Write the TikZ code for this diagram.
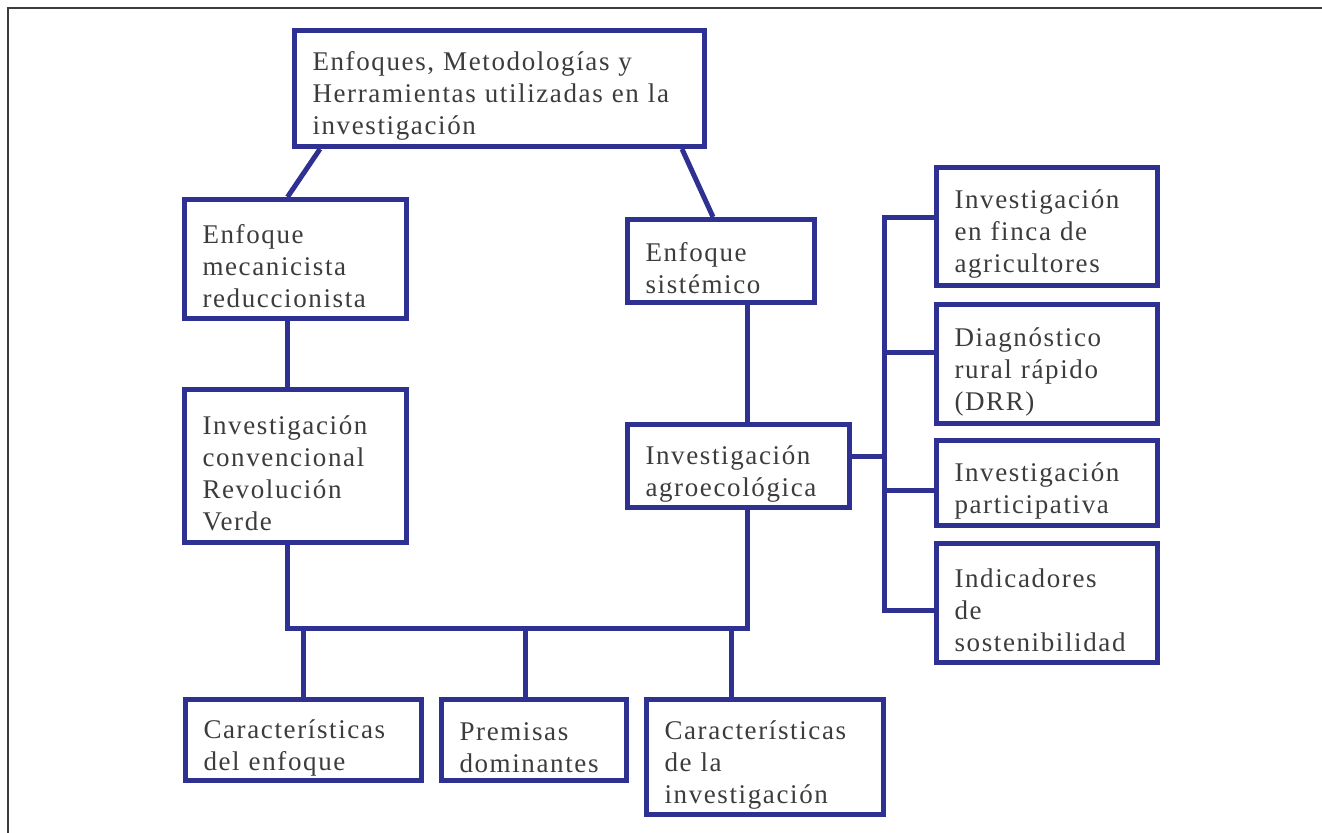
\documentclass[tikz,border=0pt]{standalone}
\usepackage{fontspec}
\setmainfont{Liberation Serif}[LetterSpace=6]
\usetikzlibrary{calc}
\definecolor{azul}{HTML}{2E3192}
\definecolor{tinta}{HTML}{3C3C3C}
\begin{document}
\begin{tikzpicture}[x=0.5pt, y=-0.5pt,
    caja/.style={draw=azul, line width=2.5pt, text=tinta, align=left,
      inner xsep=9pt, inner ysep=0pt, font=\fontsize{13.5}{16}\selectfont,
      execute at begin node={\rule{0pt}{17pt}}},
    enlace/.style={draw=azul, line width=2.5pt}]
    \useasboundingbox (0, 0) rectangle (1322, 833) ;
    \draw[line width=0.8pt, tinta] (8, 833) -- (8, 8) -- (1322, 8) ;
    \node[caja, text width=187pt, minimum width=205pt, minimum height=58pt] (raiz) at (499.5, 88.5)
      {Enfoques, Metodologías y\\Herramientas utilizadas en la\\investigación} ;
    \node[caja, text width=93pt, minimum width=111pt, minimum height=59.5pt] (mecanicista) at (295.5, 259)
      {Enfoque\\mecanicista\\reduccionista} ;
    \node[caja, text width=93pt, minimum width=111pt, minimum height=76.5pt] (convencional) at (295.5, 466)
      {Investigación\\convencional\\Revolución\\Verde} ;
    \node[caja, text width=75.5pt, minimum width=93.5pt, minimum height=41.5pt] (sistemico) at (721, 261)
      {Enfoque\\sistémico} ;
    \node[caja, text width=93pt, minimum width=111pt, minimum height=41.5pt] (agroecologica) at (738.5, 466)
      {Investigación\\agroecológica} ;
    \node[caja, text width=92.5pt, minimum width=110.5pt, minimum height=59pt] (finca) at (1047, 226.5)
      {Investigación\\en finca de\\agricultores} ;
    \node[caja, text width=92.5pt, minimum width=110.5pt, minimum height=59.5pt] (drr) at (1047, 364)
      {Diagnóstico\\rural rápido\\(DRR)} ;
    \node[caja, text width=92.5pt, minimum width=110.5pt, minimum height=42.5pt] (participativa) at (1047, 483)
      {Investigación\\participativa} ;
    \node[caja, text width=92.5pt, minimum width=110.5pt, minimum height=59.5pt] (indicadores) at (1047, 603)
      {Indicadores\\de\\sostenibilidad} ;
    \node[caja, text width=100pt, minimum width=118pt, minimum height=40.5pt] (carenfoque) at (303.5, 740)
      {Características\\del enfoque} ;
    \node[caja, text width=74.5pt, minimum width=92.5pt, minimum height=40.5pt] (premisas) at (534, 740)
      {Premisas\\dominantes} ;
    \node[caja, text width=100.5pt, minimum width=118.5pt, minimum height=57.5pt] (carinv) at (765, 757)
      {Características\\de la\\investigación} ;
    \draw[enlace] ($(raiz.south west)+(28,0)$) -- ($(mecanicista.north)+(-8,0)$) ;
    \draw[enlace] ($(raiz.south east)+(-25,0)$) -- ($(sistemico.north)+(-8,0)$) ;
    \draw[enlace] ($(mecanicista.south)+(-8,0)$) -- ($(convencional.north)+(-8,0)$) ;
    \draw[enlace] ($(sistemico.south)+(26,0)$) -- ($(agroecologica.north)+(8.5,0)$) ;
    \coordinate (bus) at (747, 628) ;
    \draw[enlace] ($(convencional.south)+(-8,0)$) |- (bus) -- ($(agroecologica.south)+(8.5,0)$) ;
    \coordinate (tp) at ($(premisas.north)+(-9,0)$) ;
    \coordinate (tc) at ($(carinv.north)+(-34,0)$) ;
    \draw[enlace] (carenfoque.north |- bus) -- (carenfoque.north) ;
    \draw[enlace] (tp |- bus) -- (tp) ;
    \draw[enlace] (tc |- bus) -- (tc) ;
    \coordinate (barra) at (884, 0) ;
    \coordinate (r1) at ($(finca.west)+(0,-8.5)$) ;
    \coordinate (r2) at ($(drr.west)+(0,-11)$) ;
    \coordinate (r3) at ($(participativa.west)+(0,8)$) ;
    \coordinate (r4) at ($(indicadores.west)+(0,7)$) ;
    \coordinate (ra) at ($(agroecologica.east)+(0,-9)$) ;
    \draw[enlace] (r1) -| (barra |- r4) -- (r4) ;
    \draw[enlace] (barra |- r2) -- (r2) ;
    \draw[enlace] (barra |- r3) -- (r3) ;
    \draw[enlace] (ra) -- (barra |- ra) ;
  \end{tikzpicture}
\end{document}
